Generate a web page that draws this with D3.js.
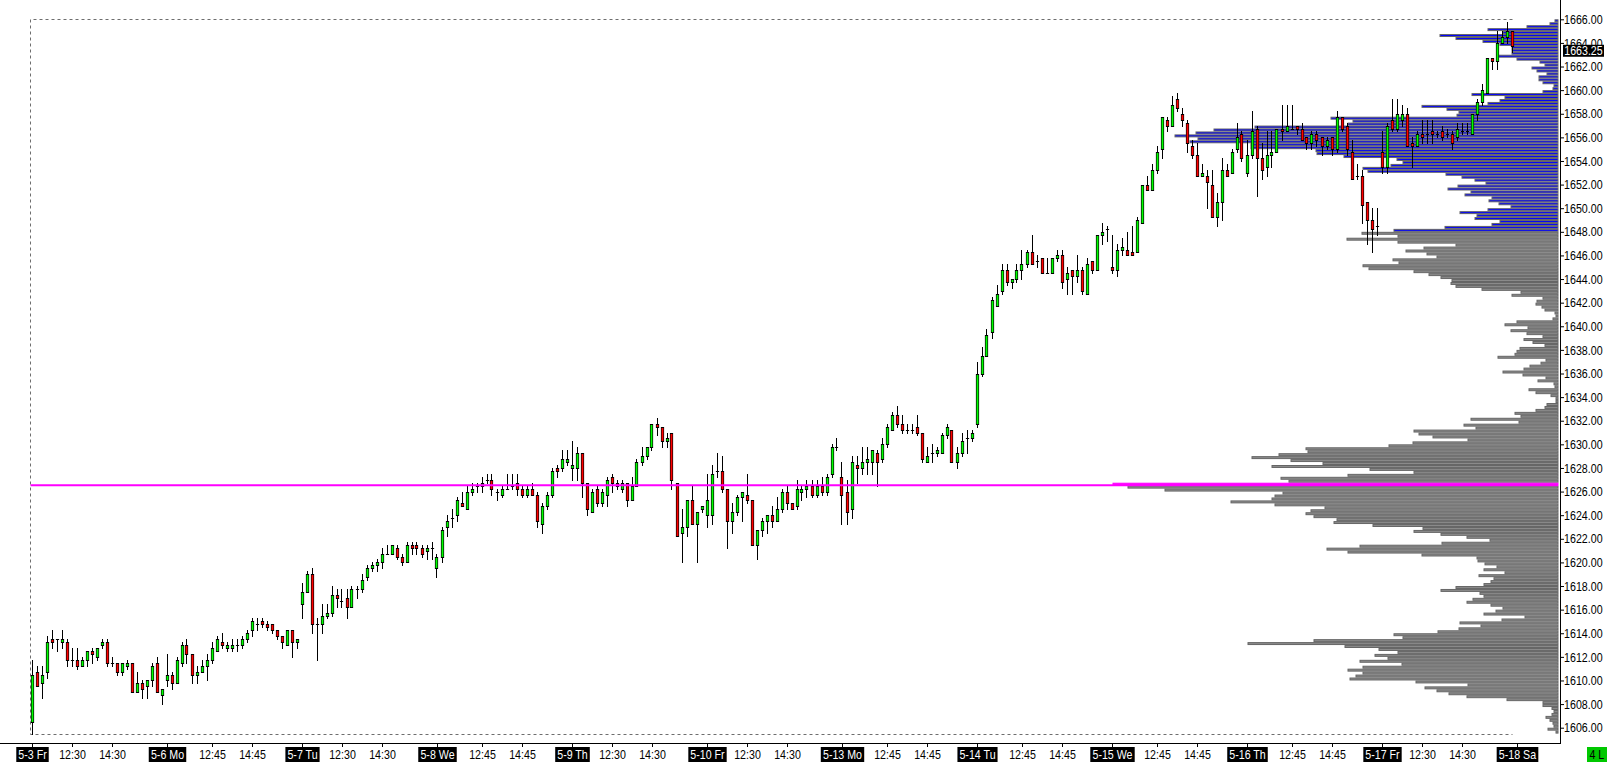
<!DOCTYPE html>
<html>
<head>
<meta charset="utf-8">
<script src="https://cdn.jsdelivr.net/npm/d3@7"></script>
<style>
  html, body { margin: 0; padding: 0; background: #fff; overflow: hidden; }
  svg { display: block; }
  text { font-family: "Liberation Sans", Arial, sans-serif; }
</style>
</head>
<body>
<svg id="chart" width="1607" height="762"></svg>
<script>
// Session days shown on the time axis, and the intraday labels under each day
const days = ['5-3 Fr', '5-6 Mo', '5-7 Tu', '5-8 We', '5-9 Th', '5-10 Fr',
              '5-13 Mo', '5-14 Tu', '5-15 We', '5-16 Th', '5-17 Fr'];
const endDay = '5-18 Sa';
const dayTimes = [
  ['12:30', '14:30'], ['12:45', '14:45'], ['12:30', '14:30'], ['12:45', '14:45'],
  ['12:30', '14:30'], ['12:30', '14:30'], ['12:45', '14:45'], ['12:45', '14:45'],
  ['12:45', '14:45'], ['12:45', '14:45'], ['12:30', '14:30']
];
const sessionStart = '10:30';
const barMinutes = 15;
const barsPerDay = 27;

// 15 minute bars, [open, high, low, close]
const bars0503 = [
  [1606.5,1611.75,1605.5,1610.5],[1610.75,1611.25,1609.5,1609.5],[1609.75,1611.25,1608.5,1610.5],
  [1610.75,1613.75,1610.25,1613.25],[1613.5,1614.25,1612.75,1613.25],[1613.5,1613.5,1612.5,1613.5],
  [1613.25,1614.25,1612.75,1613.5],[1613.25,1613.5,1611.25,1611.75],[1611.75,1612.75,1611.25,1611.75],
  [1611.75,1612.75,1611,1611.25],[1611.25,1612,1611.25,1611.75],[1611.75,1612.5,1611.25,1612.5],
  [1612.5,1612.75,1611.5,1612.25],[1612,1612.75,1611.75,1612.75],[1613,1613.5,1612.75,1613.25],
  [1613.25,1613.5,1611.25,1611.5],[1611.5,1612,1611.25,1611.5],[1611.5,1611.5,1610.5,1610.75],
  [1610.75,1611.5,1610.5,1611.5],[1611.25,1611.75,1611,1611.5],[1611.5,1611.5,1609,1609],
  [1609,1610.75,1609,1609.75],[1609.75,1610,1608.5,1609.25],[1609.5,1610,1608.5,1610],
  [1610,1611.5,1609.5,1611.25],[1611.5,1612,1609,1609],[1608.75,1609.25,1608,1609.25]
];
const bars0506 = [
  [1610,1612.25,1609.5,1610.5],[1610.5,1610.75,1609.25,1609.75],[1609.75,1612,1609.75,1611.75],
  [1611.5,1613.25,1611.25,1613],[1613,1613.5,1611.5,1612.25],[1612.25,1612.25,1609.75,1610.5],
  [1610.5,1611.25,1609.75,1610.75],[1610.75,1611.75,1610.75,1611.25],[1611.25,1612.25,1610,1611.75],
  [1611.75,1613.25,1611.5,1612.75],[1612.5,1613.75,1612.5,1613.5],[1613.25,1614,1612.75,1613],
  [1612.75,1613.25,1612.5,1613],[1612.75,1613.5,1612.5,1613],[1613,1613.5,1612.5,1613],
  [1613,1613.75,1612.75,1613.5],[1613.5,1614.25,1613.25,1614],[1614.25,1615.25,1613.75,1615],
  [1614.75,1615.25,1614.25,1614.75],[1615,1615.25,1614.5,1614.75],[1614.75,1615,1614.25,1614.5],
  [1614.75,1614.75,1614,1614.25],[1614.25,1614.25,1613.5,1613.75],[1613.75,1613.75,1612.75,1613.25],
  [1613,1614.25,1613,1614.25],[1614.25,1614.25,1612,1613.25],[1613.25,1613.5,1612.75,1613.5]
];
const bars0507 = [
  [1616.5,1618.25,1615.25,1617.5],[1617.5,1619.25,1617.5,1619],[1619,1619.5,1614,1614.75],
  [1614.75,1615.25,1611.75,1614.75],[1614.75,1616.5,1614,1615.5],[1615.5,1616.5,1615.25,1615.75],
  [1615.75,1618,1615.5,1617.25],[1617.25,1617.75,1616.25,1617],[1616.75,1617.75,1616.25,1616.75],
  [1617,1617.75,1615.25,1616.25],[1616.25,1618,1616.25,1617.75],[1617.75,1618,1617,1617.75],
  [1617.75,1619,1617.5,1618.5],[1618.75,1619.75,1618.5,1619.5],[1619.5,1620,1619.25,1619.75],
  [1619.75,1620.25,1619.25,1620],[1620,1621.25,1619.5,1620.75],[1620.75,1621.5,1620.75,1620.75],
  [1620.75,1621.5,1620.75,1621.5],[1621.25,1621.5,1620.25,1620.5],[1620.5,1620.75,1619.75,1620],
  [1620,1621.75,1620,1621.5],[1621.5,1621.75,1620.75,1621.25],[1621.5,1621.75,1620.75,1621.25],
  [1621.25,1621.5,1620.5,1620.75],[1621,1621.5,1620.25,1621.25],[1621.25,1621.75,1620.25,1621.25]
];
const bars0508 = [
  [1619.5,1620.75,1618.75,1620.5],[1620.5,1623,1620,1622.75],[1623,1624,1622.25,1623.5],
  [1623.75,1624.5,1623,1623.75],[1624,1625.5,1623.5,1625.25],[1625,1626,1624.75,1624.75],
  [1624.5,1626.5,1624.5,1626],[1626,1626.75,1625.75,1626.25],[1626.5,1626.75,1626,1626.5],
  [1626.5,1627.25,1626,1626.75],[1627,1627.5,1626.75,1627],[1627,1627.5,1625.75,1626.25],
  [1626,1626.25,1625.25,1626],[1625.75,1626.5,1625.5,1626.25],[1626.25,1627.5,1626.25,1626.25],
  [1626.5,1627.5,1626.25,1626.5],[1626.75,1627.5,1625.75,1626.25],[1626.25,1626.5,1625.5,1625.75],
  [1625.75,1626.5,1625.5,1626.25],[1626.25,1626.75,1625.75,1625.75],[1625.75,1626,1623,1623.5],
  [1623.25,1625,1622.5,1624.75],[1624.75,1626,1624.5,1625.75],[1625.75,1628,1625.5,1627.75],
  [1628,1628.25,1627.25,1627.75],[1628,1629.5,1627.75,1628.75],[1628.5,1629.5,1628.25,1628.75]
];
const bars0509 = [
  [1628,1630.25,1627,1628.25],[1628,1629.75,1627,1629.25],[1629.25,1629.25,1625.5,1626.75],
  [1626.75,1626.75,1624,1624.5],[1624.25,1626.25,1624.25,1626],[1626.25,1626.5,1624.75,1625],
  [1625,1626.25,1624.75,1626],[1625.75,1627.25,1624.75,1627],[1627.25,1627.5,1626,1626.75],
  [1626.75,1627,1626.25,1626.5],[1626.25,1627,1626,1626.75],[1626.75,1626.75,1624.75,1625.25],
  [1625.25,1627.25,1625.25,1626.5],[1626.5,1628.75,1626.5,1628.5],[1628.5,1629.75,1628.25,1629],
  [1629,1629.75,1628.75,1629.75],[1629.75,1631.75,1629.5,1631.75],[1631.75,1632.25,1630.75,1631.5],
  [1631.5,1631.5,1629.75,1630.25],[1630.25,1631,1629.75,1630.5],[1631,1631,1626.25,1627],
  [1626.75,1626.75,1622.25,1622.25],[1622.5,1624.5,1620,1623],[1623,1625.25,1622.25,1625.25],
  [1625.25,1626.5,1623.25,1623.25],[1623.25,1624.25,1620,1624.25],[1624.5,1624.75,1624.25,1624.75]
];
const bars0510 = [
  [1624,1627.5,1623,1625.25],[1624,1628.25,1623.25,1627.5],[1627.75,1629.25,1627.25,1627.75],
  [1627.75,1629,1626,1626.25],[1626.25,1626.25,1621.25,1623.5],[1623.5,1625,1622.5,1624.25],
  [1624.25,1625.75,1624,1625.5],[1625.5,1626,1623.5,1626],[1625.75,1627.5,1625,1625.25],
  [1625.25,1625.25,1621.5,1621.5],[1621.5,1622.75,1620.25,1622.75],[1622.75,1623.75,1622.25,1623.5],
  [1623.5,1624,1622.5,1624],[1624,1624.75,1623,1623.5],[1623.5,1625.5,1623.5,1624.5],
  [1624.5,1626.25,1624.25,1626],[1626,1626.5,1624.5,1625],[1625,1625,1624.5,1624.5],
  [1624.75,1627,1624.5,1626.25],[1626,1626.5,1625.25,1626.25],[1626.25,1627,1625.5,1626.5],
  [1626.5,1627,1625.5,1625.75],[1625.75,1627,1625.5,1626.5],[1626.5,1627.25,1625.75,1626],
  [1626,1627.5,1625.75,1627.25],[1627.5,1630,1627.25,1629.75],[1629.75,1630.5,1629.5,1629.75]
];
const bars0513 = [
  [1627.25,1628.5,1623.25,1625.75],[1626,1627,1623.25,1624.25],[1624.5,1629,1623.75,1628.5],
  [1628.25,1629,1626.75,1628],[1628,1629.75,1627.5,1628.5],[1628.5,1629.75,1627.5,1628.75],
  [1628.5,1629.5,1627.5,1629.5],[1629.25,1629.5,1626.5,1628.5],[1628.75,1630.5,1628.5,1630],
  [1630,1631.75,1629.75,1631.5],[1631.25,1632.75,1631.25,1632.5],[1632.5,1633.25,1631.5,1631.75],
  [1631.75,1632.5,1631,1631.25],[1631.25,1631.75,1631,1631.25],[1631.25,1631.75,1631,1631.25],
  [1631.5,1632.5,1630.75,1631],[1631,1631,1628.5,1628.75],[1628.5,1629.75,1628.5,1629],
  [1629.25,1630,1628.5,1629.25],[1629.25,1629.75,1629,1629.5],[1629.25,1631,1629.25,1630.75],
  [1630.75,1631.75,1630.5,1631.5],[1631.25,1631.25,1628.5,1628.5],[1628.5,1629.75,1628,1629.25],
  [1629.25,1631,1629,1630.25],[1630.5,1631.25,1629.25,1630.5],[1630.5,1631.25,1630.25,1631]
];
const bars0514 = [
  [1631.75,1637,1631.5,1636],[1636,1638.25,1635.75,1637.5],[1637.5,1639.75,1637.5,1639.25],
  [1639.5,1642.5,1639,1642.25],[1641.75,1643.5,1641.75,1642.75],[1643,1645.25,1642.75,1644.75],
  [1644.75,1645.25,1643.5,1643.75],[1643.75,1644,1643.25,1644],[1644,1645.25,1643.75,1644.75],
  [1644.75,1646.5,1644,1645.25],[1645.25,1646.5,1645,1646.25],[1646.25,1647.75,1645.25,1645.25],
  [1645.5,1646,1645,1645.5],[1645.75,1645.75,1644.5,1644.5],[1644.5,1645.75,1644.5,1644.5],
  [1644.5,1645.75,1644.5,1645.75],[1645.75,1646.5,1645.5,1646],[1646,1646.5,1643.25,1643.75],
  [1644,1645,1642.75,1644.5],[1644.75,1644.75,1642.75,1644.25],[1644.25,1646,1643.75,1644.75],
  [1644.75,1645,1642.75,1643],[1642.75,1645.75,1642.75,1645.25],[1645.5,1645.5,1644.5,1644.75],
  [1644.75,1647.75,1644.75,1647.75],[1647.75,1648.75,1647,1648],[1648.25,1648.5,1647.25,1648.25]
];
const bars0515 = [
  [1645,1647.75,1644.5,1644.75],[1644.75,1647,1644.25,1646.5],[1646.5,1647.5,1646,1646.75],
  [1646.5,1648,1646,1646],[1646.25,1648.5,1646,1646],[1646.25,1649.25,1646.25,1649],
  [1648.75,1652,1648.75,1652],[1652,1652.75,1651.5,1651.5],[1651.5,1653.75,1651.5,1653.25],
  [1653.25,1655.25,1653,1654.75],[1655,1657.75,1654.25,1657.75],[1657.5,1657.75,1656.5,1657],
  [1657,1659.5,1657,1658.75],[1659.25,1659.75,1658.25,1658.5],[1658,1658.5,1657,1657.5],
  [1657.25,1657.5,1654.75,1655.5],[1655.25,1655.75,1654.25,1654.5],[1654.5,1655.5,1652.75,1652.75],
  [1652.75,1653.75,1652.75,1653],[1652.75,1653.25,1650,1652.25],[1652,1653.25,1649.25,1649.25],
  [1649.25,1651.25,1648.5,1650.5],[1650.5,1654.25,1649,1653.25],[1653.25,1653.75,1652.75,1652.75],
  [1653,1655,1653,1654.75],[1655,1657.25,1654.75,1656],[1656.25,1656.5,1654,1654.25]
];
const bars0516 = [
  [1653,1655.75,1652.75,1654.5],[1654.5,1658.25,1654.25,1656.5],[1656.75,1657,1651,1654.25],
  [1654.25,1655.5,1652.5,1653.25],[1653.5,1656.5,1652.75,1654.5],[1654.5,1656.5,1653.5,1654.75],
  [1654.75,1656.75,1654.75,1656.75],[1656.75,1658.75,1655.75,1656.5],[1656.5,1658.75,1656.5,1657],
  [1656.75,1658.75,1656.75,1656.75],[1657,1657,1656.25,1656.75],[1656.75,1657.25,1655.75,1655.75],
  [1656,1656,1655,1655.5],[1655.5,1656.5,1655,1656.25],[1656.25,1656.5,1655.25,1655.75],
  [1656,1656,1654.5,1655.25],[1655.25,1656,1655,1655.75],[1656,1656,1654.5,1655],
  [1655,1658.25,1654.75,1657.75],[1657.75,1657.75,1656.5,1656.75],[1657,1657.25,1654.5,1655],
  [1654.75,1655.75,1652.5,1652.5],[1652.75,1653.75,1652.5,1652.75],[1652.75,1653.25,1648.75,1650.25],
  [1650.5,1650.5,1647,1649],[1649,1650,1646.25,1648.25],[1648.5,1650,1647.75,1648.5]
];
const bars0517 = [
  [1654.75,1656.5,1653,1653.5],[1653.5,1657.25,1653,1657],[1657.5,1659.25,1656.5,1656.75],
  [1656.75,1659.25,1656.5,1658],[1657.5,1658.75,1657,1658],[1658,1658.5,1655.25,1655.25],
  [1655.5,1656,1653.5,1655.25],[1655.25,1656.5,1655.25,1656.25],[1656.25,1657.5,1655.5,1656],
  [1656.25,1657.5,1655.5,1656.25],[1656.5,1657.5,1655.5,1656.25],[1656.25,1656.5,1656,1656.25],
  [1656.5,1657,1655.75,1656],[1656.25,1656.75,1656,1656.25],[1656.25,1656.5,1655,1655.5],
  [1656,1657.25,1655.75,1656.75],[1656.5,1657.25,1656.25,1656.5],[1656.5,1657.25,1656.25,1656.5],
  [1656.25,1658,1656.25,1658],[1658,1659.25,1657.5,1659],[1659,1660.5,1658.75,1660],
  [1659.75,1662.75,1659.75,1662.75],[1662.75,1662.75,1661.75,1662.5],[1662.5,1665,1661.75,1664],
  [1664,1665,1664,1664.5],[1664.5,1665.75,1664,1665],[1665,1665,1663.25,1663.75]
];
const lastPrice = 1663.25;

// Volume profile, one row per 0.25 tick from profileTop downward
const profileTop = 1665.75;
const profileStep = 0.25;
const profileVolumes = [
  3, 8, 31, 70, 55, 118, 102, 75, 58, 46, 46, 46, 60, 41, 18, 13, 26, 21, 11, 19,
  19, 15, 4, 5, 15, 86, 53, 58, 70, 136, 111, 99, 101, 227, 205, 210, 303, 344, 362, 383,
  360, 368, 307, 307, 242, 241, 214, 161, 155, 167, 195, 190, 112, 96, 83, 72, 100, 110, 87, 93,
  66, 69, 59, 47, 70, 98, 81, 83, 58, 66, 113, 164,
  196, 160, 211, 160, 102, 134, 152, 131, 121, 165, 159, 195, 189, 144, 129, 117, 106, 107, 102, 76,
  37, 46, 15, 21, 22, 16, 13, 3, 2, 5, 41, 53, 30, 47, 31, 15, 34, 25, 13, 38,
  41, 43, 60, 12, 17, 28, 34, 55, 35, 12, 20, 4, 3, 29, 22, 7, 2, 2, 11, 13,
  22, 43, 37, 87, 39, 94, 82, 144, 139, 125, 90, 145, 169, 252, 250, 279, 306, 267, 235, 286,
  188, 144, 210, 277, 269,
  445,
  430, 393, 275, 283, 286, 327, 283, 233, 247, 252, 244, 221, 224, 185, 135, 144, 117, 91, 68, 116,
  198, 231, 210, 136, 81, 80,
  73, 61, 74, 53, 79, 64, 67, 74, 102, 117, 78, 74, 85, 91, 67, 55, 62, 74, 33, 56,
  98, 77, 99, 120, 164, 155, 244, 310, 213, 179, 160, 183, 170, 198, 156, 195, 210, 195, 202, 208,
  142, 90, 133, 121, 109, 91, 51, 15, 15, 6, 4, 6, 12, 8, 5, 4, 10, 2
];
const recentFrom = 1648.0;   // rows at or above this price are drawn blue

const width = 1607;
const height = 762;
const axisX = 1560;
const axisY = 743;
const profileRight = 1558;

const bars = [].concat(bars0503, bars0506, bars0507, bars0508, bars0509, bars0510,
                       bars0513, bars0514, bars0515, bars0516, bars0517);

const svg = d3.select('#chart');

// bar index -> pixel, 5px per 15 minute bar
const x = d3.scaleLinear()
  .domain([0, bars.length])
  .range([32, 32 + 5 * bars.length]);

const y = d3.scaleLinear()
  .domain([1606, 1666])
  .range([727.7, 19.3]);

const profilePrices = profileVolumes.map((v, i) => profileTop - i * profileStep);
const pocIndex = d3.maxIndex(profileVolumes);
const pocPrice = profilePrices[pocIndex];

const vol = d3.scaleLinear()
  .domain([0, d3.max(profileVolumes)])
  .range([0, 445]);

// Dashed box around the traded range
const hi = d3.max(bars, d => d[1]);
const lo = d3.min(bars, d => d[2]);
const boxL = Math.floor(x(0)) - 1.5;
const boxR = Math.floor(x(bars.length - 1)) + 0.5;
const boxT = Math.round(y(hi + profileStep)) + 0.5;
const boxB = Math.round(y(lo)) + 0.5;
svg.append('path')
  .attr('d', `M${boxR},${boxT}H${boxL}V${boxB}H${boxR}`)
  .attr('fill', 'none')
  .attr('stroke', '#6e6e6e')
  .attr('stroke-width', 1)
  .attr('stroke-dasharray', '3,3');

// Volume profile rows
svg.append('g')
  .attr('class', 'profile')
  .selectAll('rect')
  .data(profileVolumes.map((v, i) => ({v, p: profilePrices[i], poc: i === pocIndex})))
  .enter()
  .append('rect')
  .attr('x', d => profileRight - vol(d.v))
  .attr('width', d => vol(d.v))
  .attr('y', d => y(d.p + profileStep) + 0.5)
  .attr('height', d => y(d.p) - y(d.p + profileStep) - 1)
  .attr('fill', d => d.poc ? '#ff00ff' : (d.p >= recentFrom ? '#0000ff' : '#8c8c8c'))
  .attr('stroke', d => d.poc ? '#ff00ff' : '#666666')
  .attr('stroke-width', 1);

// Candles: black wick, black-edged body with a coloured core
const candles = svg.append('g').attr('class', 'candles');

bars.forEach((b, i) => {
  const [o, h, l, c] = b;
  const cx = Math.floor(x(i));
  const yh = Math.round(y(h));
  const yl = Math.round(y(l));
  candles.append('rect')
    .attr('x', cx).attr('width', 1)
    .attr('y', yh).attr('height', Math.max(1, yl - yh + 1))
    .attr('fill', '#000');
  const yt = Math.round(y(Math.max(o, c)));
  const yb = Math.round(y(Math.min(o, c)));
  if (yb - yt < 2) {
    candles.append('rect')
      .attr('x', cx - 1.1).attr('width', 3.2)
      .attr('y', yt).attr('height', Math.max(1, yb - yt + 1))
      .attr('fill', '#000');
  } else {
    candles.append('rect')
      .attr('x', cx - 1.1).attr('width', 3.2)
      .attr('y', yt).attr('height', yb - yt + 1)
      .attr('fill', '#000');
    candles.append('rect')
      .attr('x', cx - 0.4).attr('width', 1.8)
      .attr('y', yt + 1).attr('height', yb - yt - 1)
      .attr('fill', c >= o ? '#00ff00' : '#ff0000');
  }
});

// Point of control line
const pocY = y(pocPrice + profileStep / 2) + 1;
svg.append('line')
  .attr('x1', boxL).attr('x2', profileRight)
  .attr('y1', pocY).attr('y2', pocY)
  .attr('stroke', '#ff00ff')
  .attr('stroke-width', 2);

// Price axis on the right
const yAxis = d3.axisRight(y)
  .tickValues(d3.range(1606, 1667, 2))
  .tickFormat(d3.format('.2f'))
  .tickSize(4)
  .tickPadding(1)
  .tickSizeOuter(0);

const yg = svg.append('g')
  .attr('transform', `translate(${axisX},0)`)
  .call(yAxis);
yg.select('.domain').remove();
yg.selectAll('text')
  .attr('font-size', 13)
  .attr('font-family', '"Liberation Sans", Arial, sans-serif')
  .attr('fill', '#000')
  .attr('transform', 'scale(0.82,1)');
yg.selectAll('line').attr('stroke', '#000');

svg.append('line')
  .attr('x1', axisX + 0.5).attr('x2', axisX + 0.5)
  .attr('y1', 0).attr('y2', axisY + 0.5)
  .attr('stroke', '#000');

// Time axis
const toMin = s => +s.split(':')[0] * 60 + +s.split(':')[1];
const ticks = [];
days.forEach((d, i) => {
  ticks.push({idx: i * barsPerDay, label: d, day: true});
  dayTimes[i].forEach(t => {
    ticks.push({idx: i * barsPerDay + (toMin(t) - toMin(sessionStart)) / barMinutes, label: t, day: false});
  });
});
ticks.push({idx: days.length * barsPerDay, label: endDay, day: true});

const xAxis = d3.axisBottom(x)
  .tickValues(ticks.map(t => t.idx))
  .tickFormat((d, i) => ticks[i].label)
  .tickSize(4)
  .tickSizeOuter(0);

const xg = svg.append('g')
  .attr('transform', `translate(0,${axisY})`)
  .call(xAxis);
xg.select('.domain').remove();
xg.selectAll('line').attr('stroke', '#000');
xg.selectAll('.tick').each(function(d, i) {
  const tick = d3.select(this);
  const text = tick.select('text')
    .attr('font-size', 13)
    .attr('font-family', '"Liberation Sans", Arial, sans-serif')
    .attr('fill', '#000')
    .attr('transform', 'scale(0.82,1)');
  if (ticks[i].day) {
    const w = text.node().getBBox().width * 0.82 + 4;
    tick.insert('rect', 'text')
      .attr('x', -w / 2).attr('width', w)
      .attr('y', 4).attr('height', height - axisY - 4)
      .attr('fill', '#000');
    text.attr('fill', '#fff');
  }
});

svg.append('line')
  .attr('x1', 0).attr('x2', axisX + 1)
  .attr('y1', axisY + 0.5).attr('y2', axisY + 0.5)
  .attr('stroke', '#000');

// Last price marker
const lp = svg.append('g')
  .attr('transform', `translate(${axisX + 3},${y(lastPrice) - 1})`);
lp.append('rect')
  .attr('x', 0).attr('y', -6)
  .attr('width', 41).attr('height', 12)
  .attr('fill', '#000');
lp.append('text')
  .attr('x', 1.5).attr('y', 0)
  .attr('dy', '0.35em')
  .attr('font-size', 13)
  .attr('fill', '#fff')
  .attr('transform', 'scale(0.82,1)')
  .text(d3.format('.2f')(lastPrice));

// Status box in the lower right corner
const sb = svg.append('g')
  .attr('transform', `translate(1587,${axisY + 4})`);
sb.append('rect')
  .attr('width', width - 1587).attr('height', height - axisY - 4)
  .attr('fill', '#00c800');
sb.append('text')
  .attr('x', 3).attr('y', 12)
  .attr('font-size', 13)
  .attr('fill', '#000')
  .attr('transform', 'scale(0.82,1)')
  .text('4 L');
</script>
</body>
</html>
